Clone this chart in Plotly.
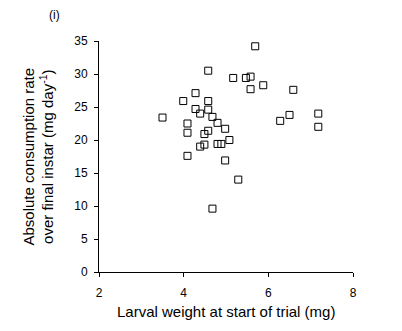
import plotly.graph_objects as go

larval_weight = [5.69, 4.58, 5.17, 5.47, 5.58, 5.88, 5.58, 6.59, 4.28, 3.99,
                 4.58, 4.28, 4.58, 4.39, 7.18, 6.50, 3.50, 4.68, 6.28, 4.80,
                 4.09, 7.18, 4.98, 4.58, 4.49, 4.09, 5.08, 4.80, 4.89, 4.49,
                 4.39, 4.09, 4.98, 5.29, 4.68]
consumption = [34.2, 30.5, 29.4, 29.4, 29.6, 28.3, 27.7, 27.6, 27.1, 25.9,
               25.9, 24.7, 24.6, 24.0, 24.0, 23.8, 23.4, 23.5, 22.9, 22.6,
               22.5, 22.0, 21.7, 21.4, 20.9, 21.1, 20.0, 19.4, 19.4, 19.3,
               19.0, 17.6, 16.9, 14.0, 9.6]
x_ticks = [2, 4, 6, 8]
y_ticks = [0, 5, 10, 15, 20, 25, 30, 35]

font = "Arial, Liberation Sans, sans-serif"
L, R, T, B, W, H = 99, 49, 41, 59, 402, 331
pw, ph = W - L - R, H - T - B

fig = go.Figure(go.Scatter(
    x=larval_weight, y=consumption, mode="markers",
    marker=dict(symbol="square-open", size=7, color="black", line=dict(width=1, color="black")),
    showlegend=False,
))

axis_common = dict(showgrid=False, zeroline=False, showline=True, linecolor="black", linewidth=1,
                   ticks="outside", ticklen=4, tickcolor="black", tickwidth=1,
                   tickfont=dict(family=font, size=12, color="black"))

fig.update_layout(
    width=W, height=H,
    margin=dict(l=L, r=R, t=T, b=B),
    paper_bgcolor="white", plot_bgcolor="white",
    xaxis=dict(range=[2, 8], tickvals=x_ticks, ticklabelstandoff=6, **axis_common),
    yaxis=dict(range=[0, 35], tickvals=y_ticks, ticklabelstandoff=4, **axis_common),
    annotations=[
        dict(text="(i)", x=(54 - L) / pw, y=(H - B - 15) / ph, xref="paper", yref="paper",
             showarrow=False, xanchor="center", yanchor="middle",
             font=dict(family=font, size=12, color="black")),
        dict(text="Larval weight at start of trial (mg)", x=0.5, y=(H - B - 311) / ph,
             xref="paper", yref="paper", showarrow=False, xanchor="center", yanchor="middle",
             font=dict(family=font, size=15, color="black")),
        dict(text="Absolute consumption rate<br>over final instar (mg day<sup>-1</sup>)",
             x=(38 - L) / pw, y=0.5, xref="paper", yref="paper", showarrow=False,
             textangle=-90, xanchor="center", yanchor="middle",
             font=dict(family=font, size=15, color="black")),
    ],
)

fig.write_html("out.html")
